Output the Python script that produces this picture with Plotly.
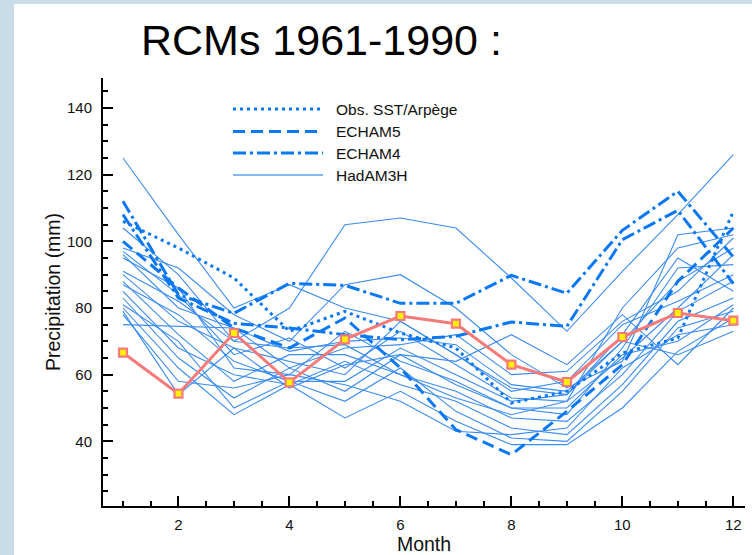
import plotly.graph_objects as go

months = list(range(1, 13))

# Observations (red line with square markers)
obs = [66.6, 54.3, 72.5, 57.7, 70.6, 77.6, 75.3, 63.0, 57.8, 71.3, 78.5, 76.2]

# Obs. SST / Arpege (dotted)
arpege = [106, 98, 89, 73, 79, 72.5, 68, 51.5, 55, 66.5, 71, 109]

# ECHAM5 (dashed)
echam5 = [100, 86, 74, 68, 77, 62, 43.5, 36, 49, 63, 88, 104]

# ECHAM4 (dash-dot)
echam4_a = [112, 84, 78.4, 87.4, 86.8, 81.4, 81.4, 89.8, 84.4, 103.3, 115, 95.3]
echam4_b = [108, 83, 75.4, 74, 72, 70.5, 71.5, 75.8, 74.5, 100.5, 109.3, 87.3]

# HadAM3H-driven RCMs (thin solid)
had_01 = [125, 102, 80, 87, 80, 76, 66, 56, 54, 70, 88, 98]
had_02 = [104, 90, 70, 80, 105, 107, 104, 89, 73, 91, 108, 126]
had_03 = [98, 92, 78, 70, 87, 90, 80, 66, 56, 64, 102, 104]
had_04 = [97, 84, 66, 71, 62, 73, 63, 53, 52, 80, 98, 102]
had_05 = [96, 80, 74, 62, 68, 69, 72, 60, 61, 76, 85, 101]
had_06 = [95, 86, 62, 60, 73, 64, 58, 50, 48, 68, 92, 93]
had_07 = [90, 76, 68, 64, 60, 76, 66, 55, 58, 75, 82, 90]
had_08 = [88, 72, 58, 66, 66, 60, 55, 47, 46, 60, 79, 88]
had_09 = [87, 78, 64, 58, 58, 68, 60, 52, 54, 72, 95, 85]
had_10 = [85, 68, 60, 57, 64, 57, 52, 44, 42, 57, 76, 83]
had_11 = [83, 65, 53, 62, 55, 66, 57, 50, 50, 66, 70, 81]
had_12 = [81, 70, 50, 58, 52, 62, 49, 41, 40, 55, 74, 79]
had_13 = [80, 62, 48, 57, 47, 55, 46, 39, 39, 50, 67, 77]
had_14 = [78, 58, 56, 60, 57, 52, 43, 42, 44, 62, 72, 75]
had_15 = [75, 74.5, 74, 67, 70, 71, 69, 57, 55, 70, 66, 73]
had_16 = [79, 54, 68, 56, 63, 66, 64, 72, 63, 78, 63, 80]
had_17 = [91, 82, 70, 68, 69, 60, 53, 48, 52, 65, 80, 96]
hadam3h = [had_01, had_02, had_03, had_04, had_05, had_06, had_07, had_08, had_09,
           had_10, had_11, had_12, had_13, had_14, had_15, had_16, had_17]

legend_names = ["Obs. SST/Arpège", "ECHAM5", "ECHAM4", "HadAM3H"]
title_text = "RCMs 1961-1990 :"

THIN = "#3a8cf0"
THICK = "#0a78f5"
DOT = "3px,4px"
DASH = "12px,6px"
DASHDOT = "13px,4px,3px,4px"
FONT = "Liberation Sans, Arial, sans-serif"

fig = go.Figure()

for s in hadam3h:
    fig.add_trace(go.Scatter(x=months, y=s, mode="lines",
                             line=dict(color=THIN, width=1.1),
                             showlegend=False, hoverinfo="skip"))

for s, dash in [(arpege, DOT), (echam5, DASH), (echam4_a, DASHDOT), (echam4_b, DASHDOT)]:
    fig.add_trace(go.Scatter(x=months, y=s, mode="lines",
                             line=dict(color=THICK, width=3, dash=dash),
                             showlegend=False, hoverinfo="skip"))

fig.add_trace(go.Scatter(x=months, y=obs, mode="lines+markers",
                         line=dict(color="#f77a7a", width=3),
                         marker=dict(symbol="square", size=8, color="#fff200",
                                     line=dict(color="#f77a7a", width=2.2)),
                         showlegend=False, hoverinfo="skip"))

# geometry helpers (pixels -> paper)
W, H = 752, 555
L, R, T, B = 103, 7, 78, 49
PW, PH = W - L - R, H - T - B


def px(xp):
    return (xp - L) / PW


def py(yp):
    return (H - B - yp) / PH


shapes = [
    dict(type="rect", xref="paper", yref="paper", x0=px(14), x1=px(760),
         y0=py(4), y1=py(560), fillcolor="white", line=dict(width=0), layer="below"),
]

annotations = []
legend_styles = [(DOT, 3, THICK), (DASH, 3, THICK), (DASHDOT, 3, THICK), ("solid", 1.3, "#5aa2f5")]
rows = [109, 131.5, 153, 175]
for name, (dash, w, c), yr in zip(legend_names, legend_styles, rows):
    shapes.append(dict(type="line", xref="paper", yref="paper",
                       x0=px(233), x1=px(323), y0=py(yr), y1=py(yr),
                       line=dict(color=c, width=w, dash=dash)))
    annotations.append(dict(xref="paper", yref="paper", x=px(334), y=py(yr),
                            xanchor="left", yanchor="middle", showarrow=False,
                            text=name, font=dict(size=15.5, color="#111", family=FONT)))

annotations.append(dict(xref="paper", yref="paper", x=px(139), y=py(40),
                        xanchor="left", yanchor="middle", showarrow=False,
                        text=title_text,
                        font=dict(size=43, color="#000", family=FONT)))

axis_common = dict(showline=True, linecolor="black", linewidth=2,
                   ticks="inside", ticklen=10, tickwidth=2, tickcolor="black",
                   showgrid=False, zeroline=False, automargin=False,
                   tickfont=dict(size=15, color="#111", family=FONT),
                   mirror=False)

fig.update_layout(
    width=W, height=H,
    margin=dict(l=L, r=R, t=T, b=B, autoexpand=False),
    paper_bgcolor="#c9dde8",
    plot_bgcolor="rgba(0,0,0,0)",
    shapes=shapes,
    annotations=annotations,
    xaxis=dict(range=[0.64, 12.21], tickvals=[2, 4, 6, 8, 10, 12],
               minor=dict(dtick=0.5, tick0=0, ticks="inside", ticklen=5,
                          tickwidth=1.5, tickcolor="black"),
               ticklabelstandoff=4,
               title=dict(text="Month", standoff=7,
                          font=dict(size=19.5, color="#111", family=FONT)),
               **axis_common),
    yaxis=dict(range=[20.6, 149], tickvals=[40, 60, 80, 100, 120, 140],
               minor=dict(dtick=5, tick0=0, ticks="inside", ticklen=5,
                          tickwidth=1.5, tickcolor="black"),
               ticklabelstandoff=6,
               title=dict(text="Precipitation (mm)", standoff=1,
                          font=dict(size=19.5, color="#111", family=FONT)),
               **axis_common),
    showlegend=False,
)

fig.write_html("out.html")
